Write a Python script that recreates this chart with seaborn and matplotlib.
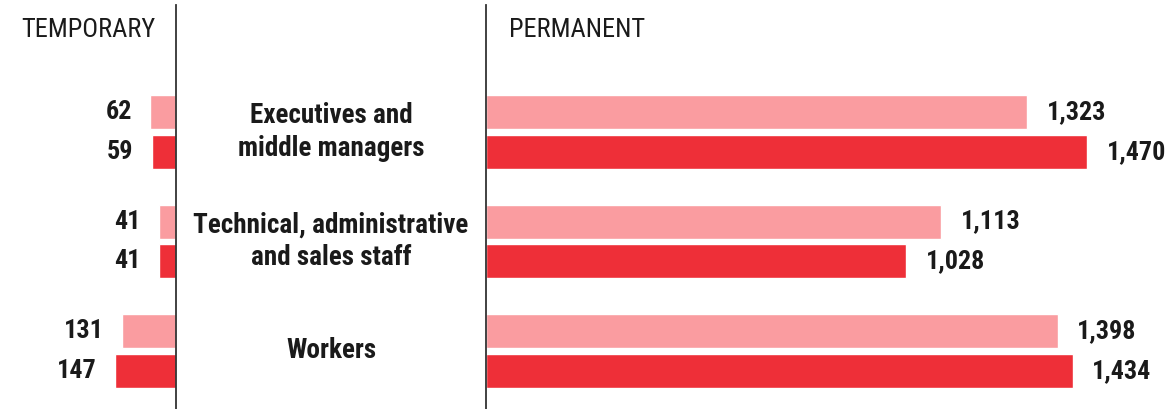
import os
import matplotlib
matplotlib.use("Agg")
import matplotlib.pyplot as plt
from matplotlib import font_manager
import seaborn as sns
import pandas as pd

categories = ["Executives and\nmiddle managers",
              "Technical, administrative\nand sales staff",
              "Workers"]
series = ["Series 1", "Series 2"]
temporary_s1 = [62, 41, 131]
temporary_s2 = [59, 41, 147]
permanent_s1 = [1323, 1113, 1398]
permanent_s2 = [1470, 1028, 1434]
colors = ["#FA9CA0", "#EE2F38"]

sns.set_theme(style="white")
plt.rcParams["font.family"] = ["DejaVu Sans"]

# --- pick a narrow installed face ---------------------------------------
files = sorted({f.fname for f in font_manager.fontManager.ttflist})

def pick(prefs):
    for pref in prefs:
        for f in files:
            b = os.path.basename(f).lower().replace(" ", "").replace("_", "").replace("-", "")
            if b.startswith(pref):
                return pref, f
    return None, None

bold_key, bold_file = pick(["liberationsansnarrowbold.", "notosanscondensedbold.",
                            "opensanscondensedbold.", "robotocondensedbold.",
                            "dejavusanscondensedbold."])
reg_key, reg_file = pick(["liberationsansnarrowregular.", "liberationsansnarrow.",
                          "notosanscondensed.", "notosanscondensedregular.",
                          "opensanscondensedregular.", "robotocondensedregular.",
                          "dejavusanscondensed."])

is_dejavu = (bold_key or "").startswith("dejavu")
label_size = 16.5 if is_dejavu else 19.5
num_size = 16 if is_dejavu else 18.8
reg_size = 19
if bold_file:
    fp_bold = font_manager.FontProperties(fname=bold_file, size=label_size)
    fp_num = font_manager.FontProperties(fname=bold_file, size=num_size)
else:
    fp_bold = font_manager.FontProperties(family="Roboto", weight="bold", size=16)
    fp_num = font_manager.FontProperties(family="Roboto", weight="bold", size=16)
if reg_file:
    fp_reg = font_manager.FontProperties(fname=reg_file, size=reg_size)
else:
    fp_reg = font_manager.FontProperties(family="Roboto", size=16)

def long(s1, s2):
    rows = []
    for c, a, b in zip(categories, s1, s2):
        rows.append((c, series[0], a))
        rows.append((c, series[1], b))
    return pd.DataFrame(rows, columns=["category", "series", "value"])

df_t = long(temporary_s1, temporary_s2)
df_p = long(permanent_s1, permanent_s2)

W, H = 1167, 409
fig = plt.figure(figsize=(W / 100, H / 100), dpi=100)

top_px = 5
ax_h = (H - top_px) / H
ax_l = fig.add_axes([0, 0, 176 / W, ax_h])
ax_c = fig.add_axes([176 / W, 0, (486 - 176) / W, ax_h])
ax_r = fig.add_axes([486 / W, 0, (W - 486) / W, ax_h])

ylim = ((H - 132) / 109.5, -(132 - top_px) / 109.5)
xlims = {ax_l: (176 / 0.415, 0), ax_r: (0, (W - 486) / 0.409)}
pads = {ax_l: 13, ax_r: 14}

for ax, df in ((ax_l, df_t), (ax_r, df_p)):
    sns.barplot(data=df, y="category", x="value", hue="series", orient="h",
                palette=colors, width=0.727, gap=0.15, saturation=1,
                legend=False, ax=ax)
    ax.set_xlim(*xlims[ax])
    ax.set_ylim(*ylim)
    for cont in ax.containers:
        ax.bar_label(cont, labels=[f"{v:,.0f}" for v in cont.datavalues],
                     padding=pads[ax], fontproperties=fp_num, color="#1a1a1a")
    ax.set_xlabel("")
    ax.set_ylabel("")
    ax.set_xticks([])
    ax.set_yticks([])
    for s in ax.spines.values():
        s.set_visible(False)

for ax, side in ((ax_l, "right"), (ax_r, "left")):
    ax.spines[side].set_visible(True)
    ax.spines[side].set_color("#333333")
    ax.spines[side].set_linewidth(1.3)

ax_c.set_ylim(*ylim)
ax_c.set_xlim(0, 1)
ax_c.axis("off")
for i, c in enumerate(categories):
    ax_c.text(0.5, i, c, ha="center", va="center", fontproperties=fp_bold,
              color="#1a1a1a", linespacing=1.25)

fig.text(21 / W, 1 - 30 / H, "TEMPORARY", ha="left", va="center",
         fontproperties=fp_reg, color="#1a1a1a")
fig.text(509 / W, 1 - 30 / H, "PERMANENT", ha="left", va="center",
         fontproperties=fp_reg, color="#1a1a1a")

fig.savefig("out.png", dpi=100, facecolor="white")
